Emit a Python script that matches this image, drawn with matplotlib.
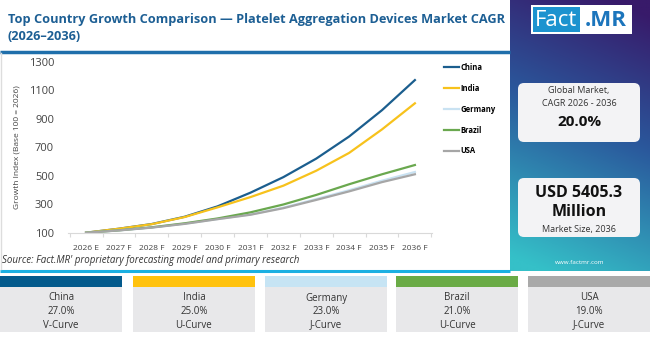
import matplotlib
matplotlib.use("Agg")
import matplotlib.pyplot as plt
import numpy as np
from matplotlib.patches import FancyBboxPatch, Rectangle

plt.rcParams['font.family'] = ['Open Sans', 'DejaVu Sans']

years = ['2026 E', '2027 F', '2028 F', '2029 F', '2030 F', '2031 F',
         '2032 F', '2033 F', '2034 F', '2035 F', '2036 F']
china = [100, 128, 161, 212, 285, 381, 490, 620, 775, 960, 1171]
india = [100, 128, 160, 210, 278, 350, 430, 535, 660, 825, 1008]
germany = [100, 116, 136, 163, 196, 228, 276, 336, 398, 465, 526]
brazil = [100, 117, 138, 166, 200, 243, 298, 365, 440, 510, 575]
usa = [100, 116, 136, 162, 195, 226, 272, 330, 390, 455, 510]

countries = ['China', 'India', 'Germany', 'Brazil', 'USA']
colors = ['#1b5e8e', '#f7c21c', '#c9e2f2', '#6aa84f', '#a6a6a6']
card_colors = ['#035a8c', '#ffc20e', '#c6e4f4', '#6aab46', '#a9a9a9']
cagr = ['27.0%', '25.0%', '23.0%', '21.0%', '19.0%']
curves = ['V-Curve', 'U-Curve', 'J-Curve', 'U-Curve', 'J-Curve']
series = [china, india, germany, brazil, usa]

W, H = 650, 338
fig = plt.figure(figsize=(W / 100, H / 100), dpi=100)
fig.patch.set_facecolor('white')

# background / decoration layer in pixel units
bg = fig.add_axes([0, 0, 1, 1], zorder=0)
bg.set_xlim(0, W)
bg.set_ylim(H, 0)
bg.axis('off')

# right panel gradient
gy, gx = np.mgrid[0:1:200j, 0:1:100j]
t = np.clip(0.9 * gy + 0.2 * (1 - gx) - 0.05, 0, 1)
top = np.array([0x38, 0x1a, 0x6a]) / 255
mid = np.array([0x2a, 0x58, 0x9c]) / 255
bot = np.array([0x35, 0xc0, 0xc8]) / 255
grad = np.where(t[..., None] < 0.45,
                top + (mid - top) * (t[..., None] / 0.45),
                mid + (bot - mid) * ((t[..., None] - 0.45) / 0.55))
bg.imshow(grad, extent=[510, W, 271, 0], aspect='auto', zorder=1)

# logo
bg.add_patch(Rectangle((531, 5), 101, 28.5, facecolor='white', zorder=2))
bg.add_patch(Rectangle((533, 7), 47, 24.5, facecolor='#1c93cf', zorder=3))
bg.text(556.5, 20, 'Fact', color='white', fontsize=16, ha='center', va='center', zorder=4)
bg.text(606, 20, '.MR', color='#1c75bc', fontsize=16, fontweight='bold',
        ha='center', va='center', zorder=4)

# info boxes
for y0 in (83, 178):
    bg.add_patch(FancyBboxPatch((518, y0), 122, 59, boxstyle='round,pad=0,rounding_size=6',
                                facecolor='#f3f3f5', edgecolor='none', zorder=2))
bg.text(579, 91, 'Global Market,', fontsize=6.5, color='#333333', ha='center', va='center', zorder=3)
bg.text(579, 103, 'CAGR 2026 - 2036', fontsize=6.5, color='#333333', ha='center', va='center', zorder=3)
bg.text(579, 122, '20.0%', fontsize=11, fontweight='bold', color='#111111', ha='center', va='center', zorder=3)
bg.text(579, 193, 'USD 5405.3', fontsize=11.5, fontweight='bold', color='#111111', ha='center', va='center', zorder=3)
bg.text(579, 212, 'Million', fontsize=11.5, fontweight='bold', color='#111111', ha='center', va='center', zorder=3)
bg.text(579, 229.5, 'Market Size, 2036', fontsize=6.5, color='#333333', ha='center', va='center', zorder=3)
bg.text(580, 262, 'www.factmr.com', fontsize=4.5, color='white', ha='center', va='center', zorder=3)

# title and rules
bg.text(8, 19, 'Top Country Growth Comparison \u2014 Platelet Aggregation Devices Market CAGR',
        fontsize=9.2, fontweight='bold', color='#1d5f94', ha='left', va='center')
bg.text(8, 36, '(2026\u20132036)', fontsize=9.2, fontweight='bold', color='#1d5f94',
        ha='left', va='center')
bg.plot([0, 510], [52, 52], color='#1f6fab', lw=2.5, solid_capstyle='butt')
bg.plot([0, 510], [270.5, 270.5], color='#1bb0e2', lw=2.2, solid_capstyle='butt')
bg.plot([1, 1], [53, 269], color='#dddddd', lw=1)

bg.text(2, 261, "Source: Fact.MR' proprietary forecasting model and primary research",
        fontsize=7, style='italic', color='#333333', ha='left', va='center')

# bottom cards
card_x = [0, 133, 265, 396, 528]
for i, name in enumerate(countries):
    x0 = card_x[i]
    bg.add_patch(Rectangle((x0, 276), 122, 11, facecolor=card_colors[i], edgecolor='none'))
    bg.add_patch(Rectangle((x0, 287), 122, 45, facecolor='#e8e8ea', edgecolor='none'))
    cx = x0 + 61
    bg.text(cx, 298, name, fontsize=7, color='#333333', ha='center', va='center')
    bg.text(cx, 311.5, cagr[i], fontsize=7, color='#333333', ha='center', va='center')
    bg.text(cx, 325, curves[i], fontsize=7, color='#333333', ha='center', va='center')

# main chart
ax = fig.add_axes([68 / W, 1 - 232.7 / H, (432 - 68) / W, (232.7 - 61.7) / H], zorder=2)
ax.patch.set_alpha(0)
x = np.arange(len(years))
lines = []
for name, vals, c in zip(countries, series, colors):
    ln, = ax.plot(x, vals, color=c, lw=1.6, label=name)
    lines.append(ln)

ax.set_xlim(-0.55, 10.52)
ax.set_ylim(100, 1300)
ax.set_yticks(range(100, 1301, 200))
ax.set_xticks(x)
ax.set_xticklabels(years)
ax.set_xticks(np.arange(-0.5, 10.6, 1), minor=True)
ax.tick_params(axis='x', which='major', length=0, pad=9, labelsize=6, labelcolor='#444444')
ax.tick_params(axis='x', which='minor', length=3, color='#d9d9d9', width=0.8)
ax.tick_params(axis='y', length=0, pad=10, labelsize=8, labelcolor='#444444')
for s in ('top', 'right', 'left'):
    ax.spines[s].set_visible(False)
ax.spines['bottom'].set_color('#d9d9d9')
ax.set_ylabel('Growth Index (Base 100 = 2026)', fontsize=6, color='#444444', labelpad=6)

fig.legend(handles=lines, loc='upper left', bbox_to_anchor=(444 / W, 1 - 63 / H),
           frameon=False, prop={'size': 5.5, 'weight': 'bold'}, handlelength=2.0,
           handletextpad=0.1, labelspacing=1.55, borderaxespad=0, borderpad=0)

fig.savefig('out.png', dpi=100, facecolor='white')
